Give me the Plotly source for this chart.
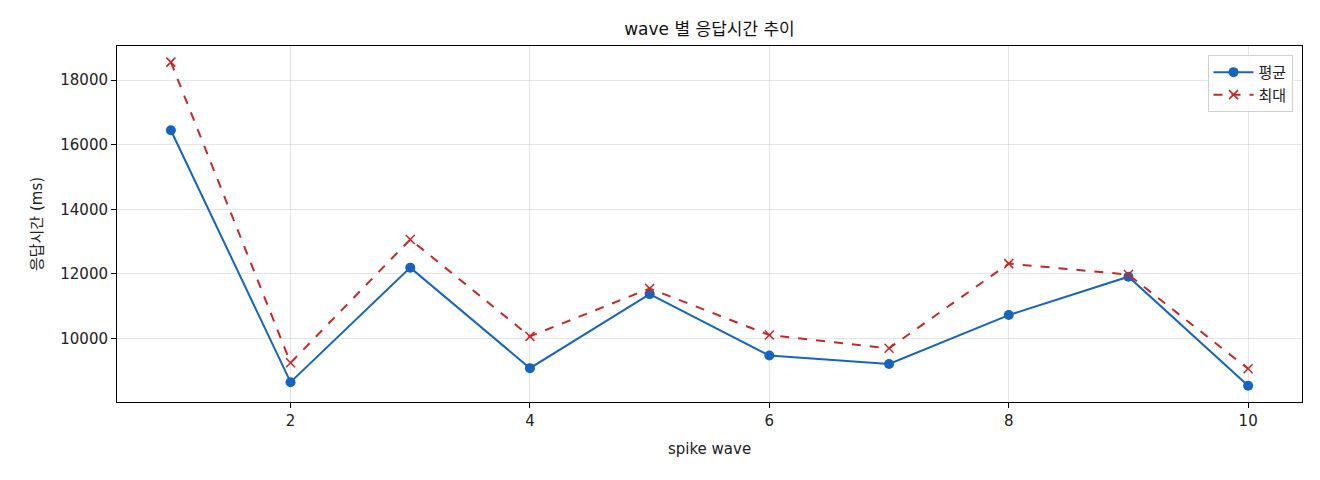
import plotly.graph_objects as go

waves    = [1, 2, 3, 4, 5, 6, 7, 8, 9, 10]
avg_ms   = [16450, 8640, 12190, 9075, 11370, 9465, 9205, 10720, 11910, 8530]
max_ms   = [18560, 9240, 13065, 10060, 11545, 10100, 9690, 12315, 11975, 9055]

x_ticks  = [2, 4, 6, 8, 10]
y_ticks  = [10000, 12000, 14000, 16000, 18000]

font_main = "DejaVu Sans, Noto Sans CJK KR"

# page body adds an 8px margin, so the figure is sized to fit inside the window
fig_w, fig_h = 1304, 464

fig = go.Figure()

fig.add_trace(go.Scatter(
    x      = waves,
    y      = avg_ms,
    mode   = 'lines+markers',
    name   = '평균',
    line   = dict(color='#1565C0', width=2),
    marker = dict(symbol='circle', size=10, color='#1565C0')
))

fig.add_trace(go.Scatter(
    x      = waves,
    y      = max_ms,
    mode   = 'lines+markers',
    name   = '최대',
    line   = dict(color='#C62828', width=2, dash='dash'),
    marker = dict(symbol='x-thin', size=9, color='#C62828',
                  line=dict(color='#C62828', width=1.5))
))

fig.update_layout(
    width         = fig_w,
    height        = fig_h,
    margin        = dict(l=109, r=10, t=38, b=70),
    plot_bgcolor  = 'white',
    paper_bgcolor = 'white',
    font          = dict(family=font_main, size=15, color='#222222'),
    title         = dict(text='wave 별 응답시간 추이',
                         x=(109 + 1294) / 2 / fig_w, xanchor='center',
                         yref='container', y=1 - 21 / fig_h, yanchor='middle',
                         font=dict(size=17, color='#111111')),
    legend        = dict(x=0.992, y=0.975, xanchor='right', yanchor='top',
                         bordercolor='#d0d0d0', borderwidth=1,
                         bgcolor='rgba(255,255,255,0.85)',
                         itemwidth=40, font=dict(size=15)),
    showlegend    = True
)

fig.update_xaxes(
    range     = [0.55, 10.45],
    tickvals  = x_ticks,
    ticks     = 'outside',
    ticklen   = 5,
    tickcolor = 'black',
    showline  = True,
    linecolor = 'black',
    linewidth = 1,
    mirror    = True,
    showgrid  = True,
    gridcolor = 'rgba(128, 128, 128, 0.2)',
    zeroline  = False,
    title     = dict(text='spike wave', font=dict(size=15), standoff=14)
)
fig.update_yaxes(
    range      = [8026, 19060],
    tickvals   = y_ticks,
    tickformat = 'd',
    ticks      = 'outside',
    ticklen    = 5,
    tickcolor  = 'black',
    showline   = True,
    linecolor  = 'black',
    linewidth  = 1,
    mirror     = True,
    showgrid   = True,
    gridcolor  = 'rgba(128, 128, 128, 0.2)',
    zeroline   = False,
    title      = dict(text='응답시간 (ms)', font=dict(size=15), standoff=14)
)

fig.write_html("out.html")
